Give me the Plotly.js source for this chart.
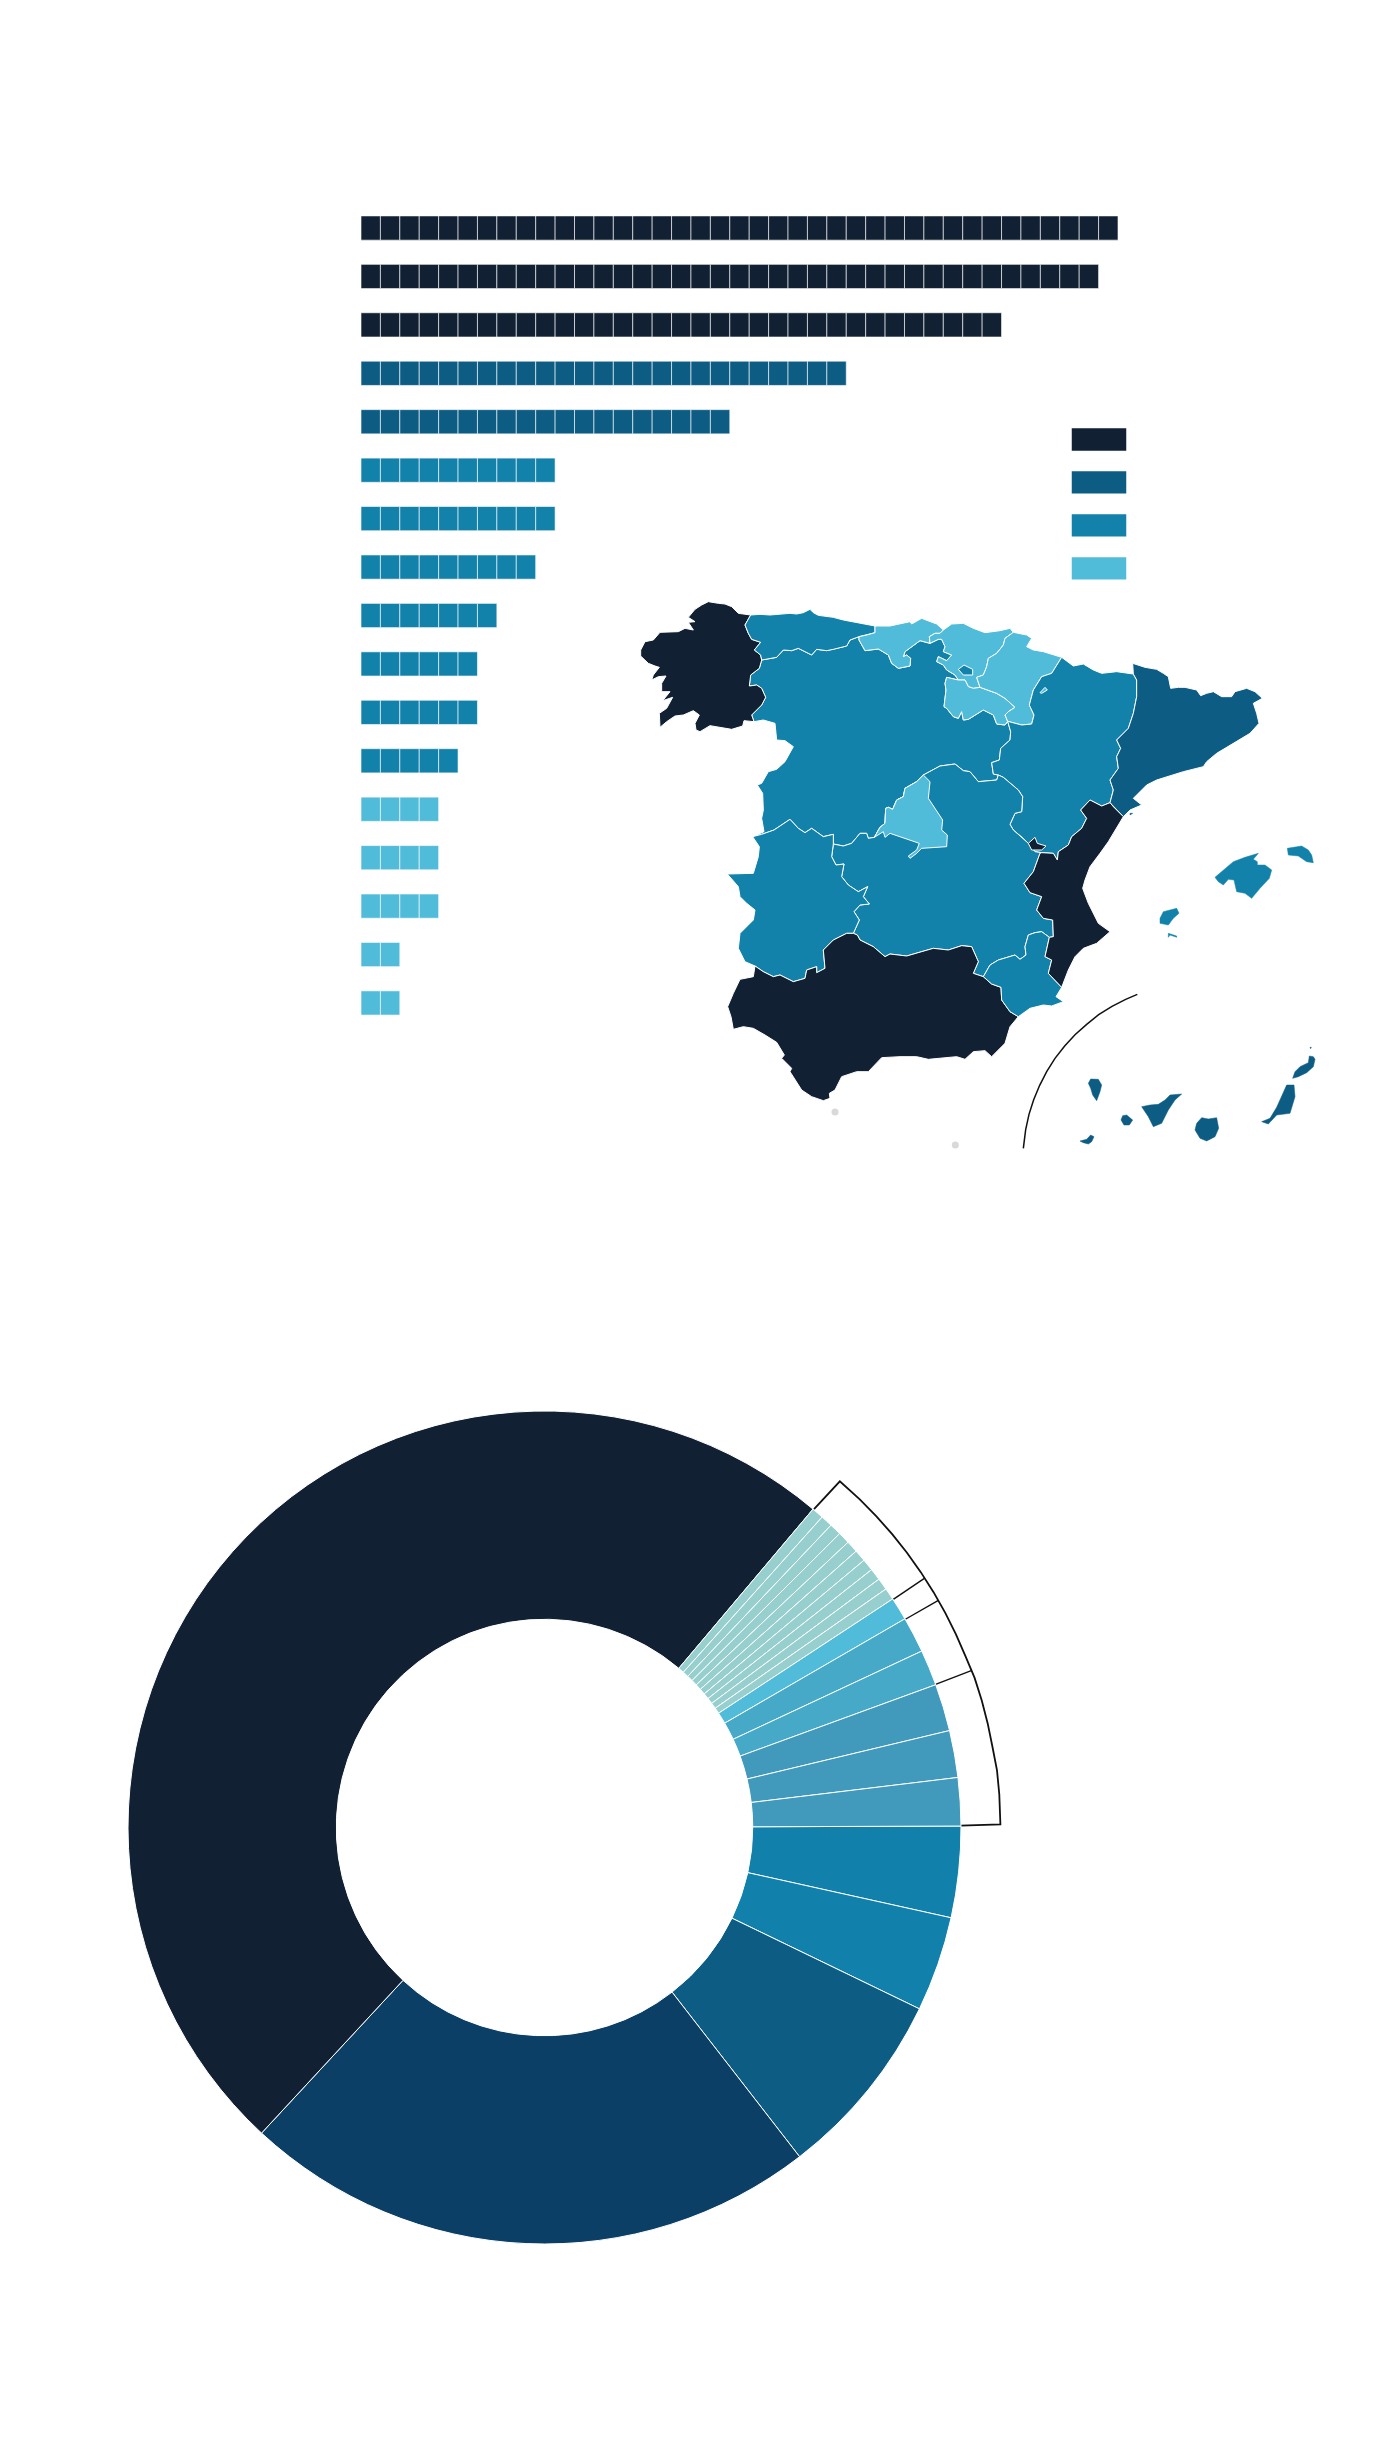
<!DOCTYPE html>
<html>
<head>
<meta charset="utf-8">
<script src="https://cdn.plot.ly/plotly-3.0.1.min.js"></script>
<style>html,body{margin:0;padding:0;background:#fff}#chart{width:1400px;height:2440px}</style>
</head>
<body>
<div id="chart"></div>
<script>
// ---------- colours ----------
const tierColors = ['#112133', '#0d5c83', '#1282ab', '#50bcda'];

// ---------- waffle rows ----------
const rowUnits = [39, 38, 33, 25, 19, 10, 10, 9, 7, 6, 6, 5, 4, 4, 4, 2, 2];
const rowTier  = [0, 0, 0, 1, 1, 2, 2, 2, 2, 2, 2, 2, 3, 3, 3, 3, 3];
const legendTiers = [0, 1, 2, 3];

// ---------- donut ----------
const donutValues = [3.53, 3.69, 7.33, 22.36, 49.22,
  0.46, 0.46, 0.46, 0.46, 0.46, 0.46, 0.46, 0.46, 0.46, 0.46,
  0.89, 1.39, 1.39, 1.83, 1.82, 1.86];
const donutColors = ['#1180aa', '#1180aa', '#0d5c83', '#0c3f66', '#112133',
  '#97cfcf', '#97cfcf', '#97cfcf', '#97cfcf', '#97cfcf', '#97cfcf', '#97cfcf', '#97cfcf', '#97cfcf', '#97cfcf',
  '#50bcda', '#46a9c8', '#46a9c8', '#4199bb', '#4199bb', '#4199bb'];

// ---------- bracket round the donut (polar: degrees, radius) ----------
const bracketTheta = [49.6, 49.4, 46, 43, 40, 37, 34, 31, 28, 25, 22, 19, 16, 13, 10, 7, 4, 0.2, 0.05];
const bracketR     = [416, 454, 454, 454, 454, 454, 454, 454, 454, 454, 454, 455, 455, 455, 455, 456, 456, 456, 416];
const tickTheta = [[33.0, 33.1], [29.8, 29.8], [19.9, 20.0]];
const tickR     = [[416, 454], [416, 454], [416, 455]];

// ---------- map outlines, in map units ----------
const coastGal = [[392,105],[355,100],[335,80],[315,72],[295,70],[265,65],[245,75],[225,88],[205,112],[225,125],[205,127],[220,150],[195,145],[175,155],[120,157],[100,180],[75,185],[62,210],[62,228],[85,250],[105,258],[118,262],[100,285],[95,300],[115,290],[138,288],[125,310],[125,335],[150,335],[128,362],[158,352],[140,385],[118,400],[120,442],[140,425],[165,408],[190,405],[220,392],[238,405],[225,430],[228,450],[240,455],[270,437],[310,445],[335,448],[368,438],[372,422],[402,425]];
const bGalAst = [[392,105],[375,135],[385,160],[395,178],[422,187],[403,210],[422,225],[425,240]];
const bGalCyL = [[425,240],[418,265],[392,285],[388,318],[410,315],[425,325],[437,352],[425,375],[395,405],[402,425]];
const coastAst = [[392,105],[420,103],[450,105],[480,103],[510,100],[530,102],[550,98],[570,88],[580,98],[595,106],[640,112],[670,120],[700,125],[735,132],[765,138]];
const bAstCan = [[765,138],[765,158],[740,165],[717,170]];
const bAstCyL = [[717,170],[690,180],[680,198],[640,208],[620,212],[590,208],[575,225],[555,215],[535,205],[515,212],[490,210],[470,232],[425,240]];
const coastCan = [[765,138],[810,138],[870,125],[875,132],[905,115],[950,132],[970,150]];
const bCanBas = [[970,150],[960,160],[945,160],[928,170],[930,190]];
const bCanCyL = [[930,190],[900,182],[855,215],[850,230],[860,225],[872,235],[870,258],[835,265],[815,250],[805,225],[775,207],[735,212],[717,180],[717,170]];
const bBasCyL = [[930,190],[955,178],[965,178],[975,200],[970,215],[995,225],[980,242],[955,230],[950,245],[970,255],[980,270],[1005,285],[1015,300]];
const bBasRio = [[1015,300],[1035,300],[1045,320],[1060,325],[1080,322]];
const bBasNav = [[1180,157],[1155,175],[1150,195],[1130,220],[1105,235],[1100,260],[1090,285],[1070,292],[1078,315],[1080,322]];
const coastBas = [[970,150],[995,132],[1030,130],[1060,145],[1095,158],[1140,152],[1170,145],[1180,157]];
const trevino = [[1015,268],[1032,255],[1058,268],[1058,285],[1030,285]];
const bRioNav = [[1080,322],[1130,340],[1155,355],[1185,382],[1165,395],[1155,405],[1163,424]];
const bRioCyL = [[1163,424],[1155,435],[1130,432],[1120,405],[1090,390],[1065,405],[1045,418],[1030,420],[1025,395],[1015,415],[1000,410],[980,385],[972,380],[978,330],[975,310],[980,292],[1005,298],[1015,300]];
const coastNav = [[1180,157],[1195,160],[1220,165],[1235,175],[1220,200],[1240,210],[1270,215],[1325,232]];
const bNavAra = [[1325,232],[1295,280],[1265,290],[1240,330],[1228,375],[1242,405],[1235,432],[1205,435],[1163,424]];
const petilla = [[1260,338],[1275,322],[1282,330],[1265,340]];
const coastAra = [[1325,232],[1360,258],[1390,252],[1420,270],[1445,280],[1490,275],[1540,282]];
const bAraCat = [[1540,282],[1550,300],[1550,350],[1540,400],[1525,445],[1490,480],[1502,505],[1490,530],[1495,565],[1470,600],[1480,630],[1470,668]];
const bAraVal = [[1470,668],[1445,678],[1410,660],[1382,690],[1400,715],[1385,745],[1355,770],[1345,795],[1315,815],[1312,840],[1300,820],[1265,818]];
const bAraCLM = [[1265,818],[1245,815],[1225,790],[1210,775],[1180,750],[1170,733],[1185,700],[1205,695],[1208,650],[1195,630],[1150,592],[1135,585]];
const bAraCyL = [[1135,585],[1120,582],[1115,548],[1138,540],[1142,505],[1170,480],[1172,455],[1163,424]];
const ademuz = [[1225,790],[1245,772],[1252,790],[1278,798],[1265,810],[1235,810]];
const coastCat = [[1540,282],[1538,250],[1575,262],[1610,268],[1630,280],[1645,290],[1652,325],[1675,322],[1695,322],[1730,330],[1742,347],[1760,340],[1780,335],[1805,350],[1835,350],[1845,335],[1880,325],[1905,335],[1927,355],[1900,370],[1910,400],[1917,430],[1890,460],[1840,490],[1790,520],[1760,545],[1750,560],[1690,575],[1610,600],[1580,615],[1540,655],[1565,675],[1530,690],[1510,710]];
const bCatVal = [[1510,710],[1480,680],[1470,668]];
const coastVal = [[1510,710],[1490,745],[1465,785],[1440,820],[1410,860],[1395,900],[1388,925],[1405,970],[1435,1030],[1470,1055],[1430,1090],[1390,1105],[1365,1130],[1345,1170],[1325,1222]];
const bValMur = [[1325,1222],[1285,1180],[1295,1140],[1275,1130],[1288,1072]];
const bValCLM = [[1288,1072],[1300,1070],[1298,1020],[1270,1015],[1250,990],[1265,950],[1230,938],[1212,910],[1240,875],[1260,820],[1265,818]];
const coastMur = [[1195,1310],[1230,1285],[1270,1275],[1295,1278],[1330,1265],[1308,1250],[1325,1222]];
const bMurCLM = [[1288,1072],[1265,1055],[1245,1058],[1225,1065],[1215,1100],[1218,1125],[1200,1138],[1185,1125],[1135,1140],[1110,1155],[1090,1190]];
const bMurAnd = [[1090,1190],[1115,1212],[1143,1222],[1145,1260],[1170,1295],[1195,1310]];
const bCLMCyLa = [[640,792],[670,798],[695,790],[720,760],[740,760],[745,775],[763,772]];
const madridNW = [[763,772],[780,742],[795,730],[797,685],[805,682],[818,688],[830,660],[850,650],[855,625],[890,605],[910,585]];
const madridSE = [[910,585],[930,605],[925,655],[945,685],[968,720],[965,750],[982,765],[980,800],[940,802],[905,805],[890,820],[870,835],[865,828],[890,810],[898,790],[840,770],[810,760],[795,772],[790,755],[763,772]];
const bCLMCyLb = [[910,585],[930,575],[960,558],[1005,552],[1030,572],[1050,575],[1075,605],[1130,600],[1135,585]];
const bCLMAnd = [[1090,1190],[1060,1180],[1075,1145],[1055,1100],[1025,1097],[985,1110],[940,1105],[905,1115],[860,1128],[810,1122],[795,1130],[760,1100],[720,1080],[712,1065],[700,1060]];
const bExtCLM = [[640,792],[635,830],[648,855],[672,852],[665,890],[685,915],[715,935],[743,920],[730,950],[748,972],[720,975],[702,995],[718,1020],[700,1060]];
const bAndExt = [[405,1158],[430,1175],[460,1190],[480,1185],[520,1205],[555,1195],[560,1170],[590,1160],[590,1178],[615,1165],[610,1110],[640,1080],[680,1060],[700,1060]];
const coastAnd = [[1195,1310],[1170,1340],[1155,1390],[1115,1430],[1095,1412],[1060,1415],[1035,1438],[1010,1430],[925,1438],[890,1430],[840,1430],[785,1433],[745,1475],[710,1475],[665,1490],[645,1530],[628,1540],[630,1555],[610,1562],[575,1550],[545,1530],[510,1475],[515,1465],[485,1435],[493,1425],[470,1387],[435,1365],[400,1345],[370,1340],[340,1348],[333,1310],[323,1280],[340,1240],[360,1198],[400,1190],[405,1158]];
const bExtCyL = [[398,770],[425,763],[462,750],[510,718],[535,745],[555,758],[575,745],[610,770],[640,763],[640,792]];
const portExt = [[398,770],[418,800],[415,830],[400,880],[322,882],[355,920],[360,950],[380,970],[405,990],[400,1020],[360,1060],[355,1105],[375,1145],[405,1158]];
const portCyL = [[402,425],[430,420],[465,430],[470,480],[495,482],[520,500],[495,545],[470,568],[445,575],[425,610],[412,615],[428,640],[430,690],[425,715],[432,755],[398,770]];
const catIslet = [[1530,700],[1538,700],[1530,705]];
const mallorca = [[1785,892],[1810,870],[1840,845],[1875,832],[1915,820],[1900,838],[1912,845],[1912,855],[1935,855],[1955,870],[1948,895],[1920,925],[1895,955],[1875,940],[1850,935],[1842,900],[1825,898],[1810,915],[1795,905]];
const menorca = [[2002,805],[2025,802],[2045,798],[2065,810],[2075,825],[2080,848],[2060,845],[2035,828],[2005,825]];
const ibiza = [[1620,1015],[1630,995],[1650,990],[1670,985],[1677,1000],[1660,1015],[1645,1035],[1620,1030]];
const formentera = [[1645,1060],[1670,1068],[1670,1072],[1650,1065],[1645,1072]];
const lanzarote = [[2018,1495],[2025,1475],[2040,1460],[2065,1448],[2068,1428],[2080,1430],[2085,1438],[2080,1460],[2060,1478],[2035,1490]];
const grasiosa = [[2070,1402],[2074,1402],[2072,1406]];
const fuerteventura = [[1925,1625],[1950,1615],[1970,1582],[1990,1540],[2000,1515],[2022,1515],[2025,1550],[2010,1600],[1970,1605],[1945,1632]];
const granCanaria = [[1725,1650],[1730,1630],[1745,1613],[1765,1617],[1790,1613],[1796,1645],[1785,1670],[1760,1683],[1740,1675]];
const tenerife = [[1565,1580],[1590,1575],[1615,1573],[1635,1560],[1650,1545],[1685,1542],[1665,1560],[1645,1590],[1625,1630],[1600,1640],[1585,1610]];
const gomera = [[1503,1620],[1508,1607],[1520,1605],[1538,1620],[1528,1635],[1512,1635]];
const laPalma = [[1405,1510],[1412,1497],[1435,1498],[1445,1515],[1440,1535],[1430,1562],[1418,1545],[1412,1525]];
const hierro = [[1380,1683],[1400,1678],[1412,1665],[1422,1670],[1415,1685],[1405,1692],[1390,1688]];
const ceutaMelilla = [[645,1596],[1006,1695]];
const canaryArc = [[1552,1243],[1517,1258],[1476,1279],[1436,1304],[1400,1333],[1365,1364],[1334,1398],[1305,1435],[1280,1475],[1259,1516],[1241,1559],[1227,1603],[1217,1649],[1210,1705]];

// ---------- assembling the regions from shared borders ----------
const rev = a => a.slice().reverse();
const chain = (...parts) => parts.flat();
const regions = [
  {tier: 2, path: chain(portCyL, bExtCyL, bCLMCyLa, madridNW, bCLMCyLb, bAraCyL, bRioCyL, rev(bBasCyL), bCanCyL, bAstCyL, bGalCyL)},
  {tier: 0, path: chain(coastGal, rev(bGalCyL), rev(bGalAst))},
  {tier: 2, path: chain(coastAst, bAstCan, bAstCyL, rev(bGalAst))},
  {tier: 3, path: chain(coastCan, bCanBas, bCanCyL, rev(bAstCan))},
  {tier: 3, path: chain(coastBas, bBasNav, rev(bBasRio), rev(bBasCyL), rev(bCanBas))},
  {tier: 3, path: chain(bRioNav, bRioCyL, bBasRio)},
  {tier: 3, path: chain(coastNav, bNavAra, rev(bRioNav), rev(bBasNav))},
  {tier: 2, path: chain(coastAra, bAraCat, bAraVal, bAraCLM, bAraCyL, rev(bNavAra))},
  {tier: 1, path: chain(coastCat, bCatVal, rev(bAraCat))},
  {tier: 2, path: chain(bCLMCyLa, madridNW, bCLMCyLb, rev(bAraCLM), rev(bValCLM), bMurCLM, bCLMAnd, rev(bExtCLM))},
  {tier: 2, path: chain(bExtCyL, bExtCLM, rev(bAndExt), rev(portExt))},
  {tier: 0, path: chain(bAndExt, rev(bCLMAnd), bMurAnd, coastAnd)},
  {tier: 2, path: chain(bMurAnd, coastMur, bValMur, bMurCLM)},
  {tier: 0, path: chain(coastVal, bValMur, bValCLM, rev(bAraVal), rev(bCatVal))},
  {tier: 3, path: chain(madridNW, madridSE)},
  {tier: 2, path: trevino},
  {tier: 3, path: petilla},
  {tier: 0, path: ademuz}
];
const islands = [
  {tier: 1, path: catIslet},
  {tier: 2, path: mallorca}, {tier: 2, path: menorca}, {tier: 2, path: ibiza}, {tier: 2, path: formentera},
  {tier: 1, path: lanzarote}, {tier: 1, path: grasiosa}, {tier: 1, path: fuerteventura}, {tier: 1, path: granCanaria},
  {tier: 1, path: tenerife}, {tier: 1, path: gomera}, {tier: 1, path: laPalma}, {tier: 1, path: hierro}
];

// ---------- traces ----------
const traces = [];

// waffle: one bar per unit
const cellY = [], cellBase = [], cellX = [], cellColor = [];
rowUnits.forEach((n, r) => {
  for (let u = 0; u < n; u++) {
    cellY.push(r); cellBase.push(u); cellX.push(1); cellColor.push(tierColors[rowTier[r]]);
  }
});
traces.push({type: 'bar', orientation: 'h', x: cellX, y: cellY, base: cellBase, width: 0.5,
  marker: {color: cellColor, line: {color: '#ffffff', width: 0.6}},
  xaxis: 'x', yaxis: 'y', hoverinfo: 'skip', showlegend: false});

// legend swatches
traces.push({type: 'bar', orientation: 'h', x: legendTiers.map(() => 1), y: legendTiers, width: 0.52,
  marker: {color: legendTiers.map(t => tierColors[t])},
  xaxis: 'x2', yaxis: 'y2', hoverinfo: 'skip', showlegend: false});

// map regions
regions.forEach(reg => {
  const closed = reg.path.concat([reg.path[0]]);
  traces.push({type: 'scatter', mode: 'lines', x: closed.map(p => p[0]), y: closed.map(p => p[1]),
    fill: 'toself', fillcolor: tierColors[reg.tier], line: {color: '#ffffff', width: 1},
    xaxis: 'x3', yaxis: 'y3', hoverinfo: 'skip', showlegend: false});
});
islands.forEach(reg => {
  const closed = reg.path.concat([reg.path[0]]);
  traces.push({type: 'scatter', mode: 'lines', x: closed.map(p => p[0]), y: closed.map(p => p[1]),
    fill: 'toself', fillcolor: tierColors[reg.tier], line: {color: tierColors[reg.tier], width: 0.5},
    xaxis: 'x3', yaxis: 'y3', hoverinfo: 'skip', showlegend: false});
});
traces.push({type: 'scatter', mode: 'markers', x: ceutaMelilla.map(p => p[0]), y: ceutaMelilla.map(p => p[1]),
  marker: {color: '#d9d9d9', size: 7}, xaxis: 'x3', yaxis: 'y3', hoverinfo: 'skip', showlegend: false});
traces.push({type: 'scatter', mode: 'lines', x: canaryArc.map(p => p[0]), y: canaryArc.map(p => p[1]),
  line: {color: '#111111', width: 1.5},
  xaxis: 'x3', yaxis: 'y3', hoverinfo: 'skip', showlegend: false});

// donut
traces.push({type: 'pie', values: donutValues, hole: 0.5, sort: false, direction: 'clockwise', rotation: 89.8,
  marker: {colors: donutColors, line: {color: '#ffffff', width: 1}},
  textinfo: 'none', hoverinfo: 'skip', showlegend: false,
  domain: {x: [128 / 1400, 961 / 1400], y: [1 - 2244 / 2440, 1 - 1411 / 2440]}});

// bracket
traces.push({type: 'scatterpolar', mode: 'lines', theta: bracketTheta, r: bracketR,
  line: {color: '#111111', width: 1.8}, hoverinfo: 'skip', showlegend: false, subplot: 'polar'});
tickTheta.forEach((t, i) => traces.push({type: 'scatterpolar', mode: 'lines', theta: t, r: tickR[i],
  line: {color: '#111111', width: 1.4}, hoverinfo: 'skip', showlegend: false, subplot: 'polar'}));

const hidden = {visible: false, fixedrange: true, showgrid: false, zeroline: false};
const layout = {
  width: 1400, height: 2440, margin: {l: 0, r: 0, t: 0, b: 0},
  paper_bgcolor: '#ffffff', plot_bgcolor: 'rgba(0,0,0,0)', showlegend: false, barmode: 'overlay',
  xaxis:  Object.assign({}, hidden, {domain: [361 / 1400, 1118 / 1400], range: [0, 39], anchor: 'y'}),
  yaxis:  Object.assign({}, hidden, {domain: [1 - 1027.2 / 2440, 1 - 203.8 / 2440], range: [16.5, -0.5], anchor: 'x'}),
  xaxis2: Object.assign({}, hidden, {domain: [1071.5 / 1400, 1126.5 / 1400], range: [0, 1], anchor: 'y2'}),
  yaxis2: Object.assign({}, hidden, {domain: [1 - 589.8 / 2440, 1 - 418 / 2440], range: [3.5, -0.5], anchor: 'x2'}),
  xaxis3: Object.assign({}, hidden, {domain: [620 / 1400, 1320 / 1400], range: [0, 2100], anchor: 'y3'}),
  yaxis3: Object.assign({}, hidden, {domain: [1 - 1160 / 2440, 1 - 580 / 2440], range: [1740, 0], anchor: 'x3'}),
  polar: {
    domain: {x: [84.4 / 1400, 1004.4 / 1400], y: [1 - 2286 / 2440, 1 - 1366 / 2440]},
    bgcolor: 'rgba(0,0,0,0)',
    radialaxis: {visible: false, range: [0, 460]},
    angularaxis: {visible: false}
  }
};
Plotly.newPlot('chart', traces, layout, {displayModeBar: false, staticPlot: true});
</script>
</body>
</html>
